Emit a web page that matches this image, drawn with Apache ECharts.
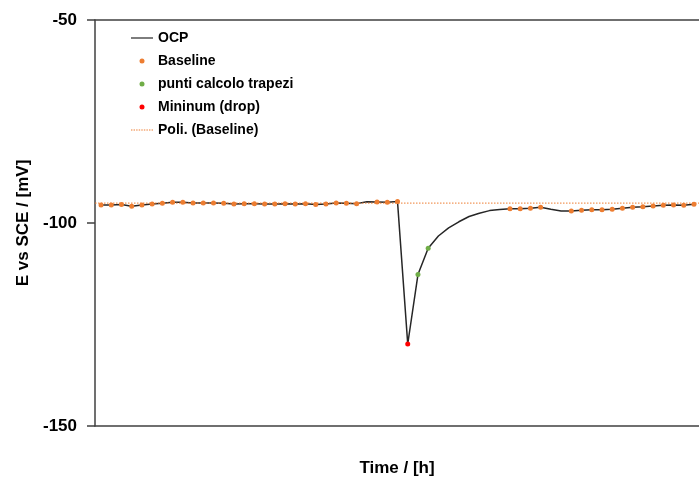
<!DOCTYPE html>
<html>
<head>
<meta charset="utf-8">
<script src="https://cdn.jsdelivr.net/npm/echarts@6/dist/echarts.min.js"></script>
<style>
  html, body { margin: 0; padding: 0; background: #ffffff; }
  #chart { width: 699px; height: 479px; }
</style>
</head>
<body>
<div id="chart"></div>
<script>
// Sampling times (h)
var hours = [0, 1, 2, 3, 4, 5, 6, 7, 8, 9, 10, 11, 12, 13, 14, 15, 16, 17, 18, 19,
  20, 21, 22, 23, 24, 25, 26, 27, 28, 29, 30, 31, 32, 33, 34, 35, 36, 37, 38, 39,
  40, 41, 42, 43, 44, 45, 46, 47, 48, 49, 50, 51, 52, 53, 54, 55, 56, 57, 58];

// Open circuit potential, E vs SCE (mV)
var ocp = [-95.55, -95.55, -95.47, -95.88, -95.55, -95.31, -95.14, -94.90, -94.90, -95.06,
  -95.06, -95.06, -95.14, -95.31, -95.23, -95.23, -95.31, -95.31, -95.23, -95.31,
  -95.23, -95.47, -95.31, -95.06, -95.14, -95.23, -94.75, -94.81, -94.90, -94.73,
  -129.8, -112.7, -106.2, -103.2, -101.2, -99.7, -98.4, -97.6, -96.95, -96.66,
  -96.46, -96.46, -96.39, -96.14, -96.63, -97.07, -97.03, -96.88, -96.71, -96.71,
  -96.63, -96.34, -96.14, -95.97, -95.79, -95.65, -95.55, -95.65, -95.40];

// Samples used for the baseline fit
var baselineIdx = [0, 1, 2, 3, 4, 5, 6, 7, 8, 9, 10, 11, 12, 13, 14, 15, 16, 17, 18, 19,
  20, 21, 22, 23, 24, 25, 27, 28, 29, 40, 41, 42, 43,
  46, 47, 48, 49, 50, 51, 52, 53, 54, 55, 56, 57, 58];
// Samples used in the trapezoid integration
var trapezIdx = [31, 32];
// Minimum of the drop
var minIdx = [30];

// Polynomial fit of the baseline (flat over the window)
var fitLevel = -95.1;

var yTicks = { min: -150, max: -50, interval: 50 };
var xRange = { min: -0.59, max: 58.49 };

function pick(idx) {
  return idx.map(function (i) { return [hours[i], ocp[i]]; });
}
var ocpData = hours.map(function (h, i) { return [h, ocp[i]]; });
var fitData = [[xRange.min, fitLevel], [xRange.max, fitLevel]];

var FONT = 'Liberation Sans';
var AXIS_COLOR = '#404040';

// Legend glyphs: a solid stroke and a dotted stroke
var solidIcon = 'path://M0,0h22v1.2h-22z';
var dottedIcon = 'path://' + [0, 2.5, 5, 7.5, 10, 12.5, 15, 17.5, 20].map(function (x) {
  return 'M' + x + ',0h1.4v1h-1.4z';
}).join(' ');

var chart = echarts.init(document.getElementById('chart'), null, { renderer: 'canvas' });
chart.setOption({
  animation: false,
  backgroundColor: '#ffffff',
  grid: { left: 95, top: 20, right: 0, bottom: 53, containLabel: false, outerBoundsMode: 'none' },
  legend: {
    orient: 'vertical',
    left: 126,
    top: 26,
    itemWidth: 22,
    itemHeight: 5,
    itemGap: 9,
    textStyle: { fontFamily: FONT, fontWeight: 'bold', fontSize: 14, color: '#000', lineHeight: 14 },
    data: [
      { name: 'OCP', icon: solidIcon, itemStyle: { color: '#262626' } },
      { name: 'Baseline', icon: 'circle' },
      { name: 'punti calcolo trapezi', icon: 'circle' },
      { name: 'Mininum (drop)', icon: 'circle' },
      { name: 'Poli. (Baseline)', icon: dottedIcon, itemStyle: { color: '#ED7D31' } }
    ]
  },
  xAxis: [{
    type: 'value',
    min: xRange.min,
    max: xRange.max,
    name: 'Time / [h]',
    nameLocation: 'middle',
    nameGap: 34,
    nameTextStyle: { fontFamily: FONT, fontWeight: 'bold', fontSize: 17, color: '#000' },
    axisLine: { show: true, onZero: false, lineStyle: { color: AXIS_COLOR, width: 1.5 } },
    axisTick: { show: false },
    axisLabel: { show: false },
    splitLine: { show: false }
  }, {
    type: 'value',
    position: 'top',
    min: xRange.min,
    max: xRange.max,
    axisLine: { show: true, onZero: false, lineStyle: { color: AXIS_COLOR, width: 1.5 } },
    axisTick: { show: false },
    axisLabel: { show: false },
    splitLine: { show: false }
  }],
  yAxis: {
    type: 'value',
    min: yTicks.min,
    max: yTicks.max,
    interval: yTicks.interval,
    name: 'E vs SCE / [mV]',
    nameLocation: 'middle',
    nameGap: 62,
    nameTextStyle: { fontFamily: FONT, fontWeight: 'bold', fontSize: 17, color: '#000' },
    axisLine: { show: true, onZero: false, lineStyle: { color: AXIS_COLOR, width: 1.5 } },
    axisTick: { show: true, inside: false, length: 8, lineStyle: { color: AXIS_COLOR, width: 1.5 } },
    axisLabel: { fontFamily: FONT, fontWeight: 'bold', fontSize: 17, color: '#000', margin: 18 },
    splitLine: { show: false }
  },
  series: [{
    name: 'OCP',
    type: 'line',
    data: ocpData,
    symbol: 'none',
    smooth: false,
    lineStyle: { color: '#262626', width: 1.5 },
    itemStyle: { color: '#262626' },
    z: 2
  }, {
    name: 'Poli. (Baseline)',
    type: 'line',
    data: fitData,
    symbol: 'none',
    lineStyle: { color: '#ED7D31', width: 1, type: [1.5, 1.5] },
    itemStyle: { color: '#ED7D31' },
    z: 3
  }, {
    name: 'Baseline',
    type: 'scatter',
    data: pick(baselineIdx),
    symbol: 'circle',
    symbolSize: 5,
    itemStyle: { color: '#ED7D31', opacity: 1 },
    z: 4
  }, {
    name: 'punti calcolo trapezi',
    type: 'scatter',
    data: pick(trapezIdx),
    symbol: 'circle',
    symbolSize: 5,
    itemStyle: { color: '#70AD47', opacity: 1 },
    z: 4
  }, {
    name: 'Mininum (drop)',
    type: 'scatter',
    data: pick(minIdx),
    symbol: 'circle',
    symbolSize: 5,
    itemStyle: { color: '#FF0000', opacity: 1 },
    z: 4
  }]
});
</script>
</body>
</html>
